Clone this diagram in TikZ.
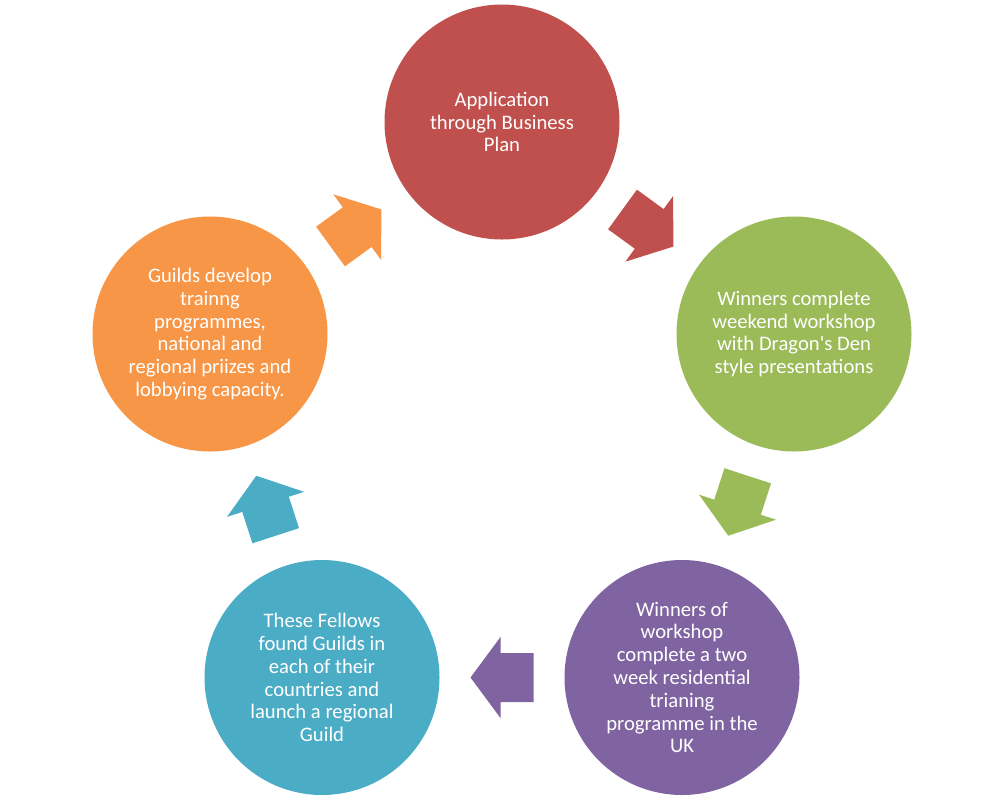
\documentclass[tikz,border=0pt]{standalone}
\usepackage{fontspec}
\setmainfont{Carlito}
\usetikzlibrary{calc}
\definecolor{redc}{HTML}{C0504D}
\definecolor{greenc}{HTML}{9BBB59}
\definecolor{purplec}{HTML}{8064A2}
\definecolor{tealc}{HTML}{4BACC6}
\definecolor{orangec}{HTML}{F79646}
\tikzset{
  disc/.style={circle, minimum size=176.25pt, inner sep=0pt, draw=none},
  txt/.style={text=white, align=center, inner sep=0pt, font={\fontsize{15.5pt}{17.1pt}\selectfont}},
}
\newcommand{\blockarrowpath}{(-31.5,-24.5) -- (1.5,-24.5) -- (1.5,-40.5) -- (31.5,0) -- (1.5,40.5) -- (1.5,24.5) -- (-31.5,24.5) -- cycle}
\begin{document}
\begin{tikzpicture}[x=0.75pt, y=-0.75pt]
\useasboundingbox (0,0) rectangle (1004,801);
\fill[white] (0,0) rectangle (1004,801);
% circles
\node[disc, fill=redc] (c1) at (502,122) {};
\node[disc, fill=greenc] (c2) at (794,334) {};
\node[disc, fill=purplec] (c3) at (682,677.5) {};
\node[disc, fill=tealc] (c4) at (322,677.5) {};
\node[disc, fill=orangec] (c5) at (210,334) {};
% texts
\node[txt] (t1) at (c1) {Application\\through Business\\Plan};
\node[txt] (t2) at (c2) {Winners complete\\weekend workshop\\with Dragon\textquotesingle s Den\\style presentations};
\node[txt] (t3) at (c3) {Winners of\\workshop\\complete a two\\week residential\\trianing\\programme in the\\UK};
\node[txt] (t4) at (c4) {These Fellows\\found Guilds in\\each of their\\countries and\\launch a regional\\Guild};
\node[txt] (t5) at (c5) {Guilds develop\\trainng\\programmes,\\national and\\regional priizes and\\lobbying capacity.};
% block arrows
\fill[redc, shift={($(c1)!0.5!(c2)$)}, rotate=-36] \blockarrowpath;
\fill[greenc, shift={($(c2)!0.5!(c3)$)}, rotate=-108] \blockarrowpath;
\fill[purplec, shift={($(c3)!0.5!(c4)$)}, rotate=-180] \blockarrowpath;
\fill[tealc, shift={($(c4)!0.5!(c5)$)}, rotate=-252] \blockarrowpath;
\fill[orangec, shift={($(c5)!0.5!(c1)$)}, rotate=-324] \blockarrowpath;
\end{tikzpicture}
\end{document}
